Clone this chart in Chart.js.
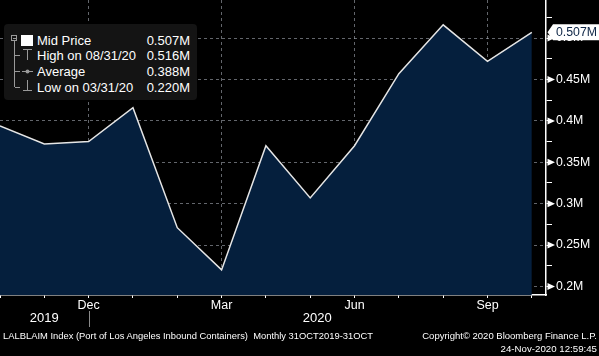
<!DOCTYPE html>
<html><head><meta charset="utf-8">
<script src="https://cdn.jsdelivr.net/npm/chart.js@4/dist/chart.umd.min.js"></script>
<style>
html,body{margin:0;padding:0;background:#000;}
#wrap{position:relative;width:599px;height:356px;overflow:hidden;background:#000;}
#c{position:absolute;left:0;top:0;}
.t{position:absolute;color:#fff;font-family:'Liberation Sans',Arial,sans-serif;white-space:nowrap;line-height:16px;}
#legend{position:absolute;left:4px;top:24px;width:193px;height:76px;background:#141414;border-radius:4px;}
</style></head><body>
<div id="wrap">
<canvas id="c" width="599" height="356"></canvas>
<div id="legend"></div>
<svg id="licons" width="40" height="100" style="position:absolute;left:0;top:0" xmlns="http://www.w3.org/2000/svg">
  <g stroke="#9a9a9a" stroke-width="1" fill="none" shape-rendering="crispEdges">
    <rect x="11.5" y="35.5" width="5" height="5"/>
    <line x1="12.5" y1="38.5" x2="15.5" y2="38.5"/>
    <line x1="14.5" y1="41" x2="14.5" y2="87"/>
    <line x1="14.5" y1="55.5" x2="20" y2="55.5"/>
    <line x1="14.5" y1="71.5" x2="20" y2="71.5"/>
    <line x1="14.5" y1="87.5" x2="20" y2="87.5"/>
    <line x1="23" y1="49.5" x2="32" y2="49.5"/>
    <line x1="27.5" y1="49.5" x2="27.5" y2="60"/>
    <line x1="22" y1="71.5" x2="33" y2="71.5"/>
    <line x1="27.5" y1="80" x2="27.5" y2="90.5"/>
    <line x1="23" y1="90.5" x2="32" y2="90.5"/>
  </g>
  <circle cx="27.5" cy="71.5" r="2" fill="#9a9a9a"/>
  <rect x="21" y="35" width="12" height="11" fill="#fff"/>
</svg>
<div id="ltext"></div>
<div class="t" id="foot1" style="left:3px;top:328px;font-size:9.4px;">LALBLAIM Index (Port of Los Angeles Inbound Containers)&nbsp; Monthly 31OCT2019-31OCT</div>
<div class="t" id="foot2" style="right:2px;top:328px;font-size:9.5px;">Copyright© 2020 Bloomberg Finance L.P.</div>
<div class="t" id="foot3" style="right:2px;top:341px;font-size:9.7px;">24-Nov-2020 12:59:45</div>
</div>
<script>
// ---- data ----
const months = ['Oct','Nov','Dec','Jan','Feb','Mar','Apr','May','Jun','Jul','Aug','Sep','Oct'];
const dates = ['10/31/19','11/30/19','12/31/19','01/31/20','02/29/20','03/31/20','04/30/20','05/31/20','06/30/20','07/31/20','08/31/20','09/30/20','10/31/20'];
const midPrice = [0.394,0.372,0.375,0.416,0.271,0.220,0.370,0.307,0.370,0.457,0.516,0.472,0.507];
const labeledMonths = ['Dec','Mar','Jun','Sep'];
const yearLabels = ['2019','2020'];
const yMajorTicks = [0.2,0.25,0.3,0.35,0.4,0.45,0.5];
const yMinorTicks = [0.225,0.275,0.325,0.375,0.425,0.475,0.525];

const FONT = "'Liberation Sans',Arial,sans-serif";
const GRID = 'rgba(165,170,180,0.6)';
const fmtAxis = v => String(+v.toFixed(3)) + 'M';
const fmt3 = v => v.toFixed(3) + 'M';
const yearBoundary = months.indexOf('Dec');

// ---- legend text ----
(function(){
  const last = midPrice[midPrice.length-1];
  const hi = Math.max(...midPrice), lo = Math.min(...midPrice);
  const avg = midPrice.reduce((a,b)=>a+b,0)/midPrice.length;
  const rows = [
    ['Mid Price', fmt3(last)],
    ['High on ' + dates[midPrice.indexOf(hi)], fmt3(hi)],
    ['Average', fmt3(avg)],
    ['Low on ' + dates[midPrice.indexOf(lo)], fmt3(lo)]
  ];
  const cy = [40.5, 56, 72, 88];
  let h = '';
  rows.forEach((r,i)=>{
    h += `<div class="t" style="left:37px;top:${cy[i]-8}px;font-size:13px;">${r[0]}</div>`;
    h += `<div class="t" style="right:${599-190}px;top:${cy[i]-8}px;font-size:13px;">${r[1]}</div>`;
  });
  document.getElementById('ltext').innerHTML = h;
})();

const deco = {
  id: 'deco',
  afterDraw(chart){
    const ctx = chart.ctx, ys = chart.scales.y, xs = chart.scales.x, x2 = chart.scales.x2;
    const ax = ys.left;
    ctx.save();
    ctx.fillStyle = '#fff';
    yMajorTicks.forEach(v=>{
      const py = ys.getPixelForValue(v);
      ctx.beginPath();
      ctx.moveTo(ax+1.5, py-3.5); ctx.lineTo(ax+9, py); ctx.lineTo(ax+1.5, py+3.5);
      ctx.closePath(); ctx.fill();
    });
    // last value badge
    const last = midPrice[midPrice.length-1];
    const py = ys.getPixelForValue(last);
    ctx.beginPath();
    ctx.moveTo(ax+1.5, py);
    ctx.lineTo(ax+7, py-8);
    ctx.lineTo(chart.width, py-8);
    ctx.lineTo(chart.width, py+8);
    ctx.lineTo(ax+7, py+8);
    ctx.closePath(); ctx.fill();
    ctx.fillStyle = '#0b2344';
    ctx.font = '12.3px ' + FONT;
    ctx.textBaseline = 'middle';
    ctx.textAlign = 'left';
    ctx.fillText(fmt3(last), ax+10, py+0.5);
    // year separator
    const px = Math.round(xs.getPixelForValue(yearBoundary)) + 0.5;
    ctx.strokeStyle = '#8a8a8a'; ctx.lineWidth = 1;
    ctx.beginPath(); ctx.moveTo(px, x2.top - 1); ctx.lineTo(px, x2.bottom); ctx.stroke();
    ctx.restore();
  }
};

new Chart(document.getElementById('c'), {
  type: 'line',
  data: {
    datasets: [{
      data: midPrice.map((v,i)=>({x:i, y:v})),
      borderColor: '#e6e6e6',
      borderWidth: 1.5,
      backgroundColor: '#051f3d',
      fill: 'start',
      pointRadius: 0,
      tension: 0
    }]
  },
  options: {
    responsive: false,
    animation: false,
    devicePixelRatio: 1,
    layout: { padding: { left: 0, top: 0, right: 0, bottom: 29 } },
    plugins: { legend: { display: false }, tooltip: { enabled: false } },
    scales: {
      x: {
        type: 'linear', position: 'bottom', min: 0, max: 12.32, z: 1,
        afterBuildTicks: s => { s.ticks = months.map((m,i)=>({value:i})); },
        afterFit: s => { s.height = 17; s.paddingLeft = 0; s.paddingRight = 0; },
        grid: {
          color: c => (c.tick && labeledMonths.includes(months[c.tick.value]) && c.tick.value !== 0 && c.tick.value !== 12) ? GRID : 'rgba(0,0,0,0)',
          tickColor: '#fff', tickLength: 3, lineWidth: 1, tickWidth: 1
        },
        border: { display: true, color: '#fff', width: 1.5, dash: [3,3] },
        ticks: {
          color: '#fff', font: { family: FONT, size: 12.5, lineHeight: 1 }, padding: 1,
          maxRotation: 0, autoSkip: false,
          callback: (v) => labeledMonths.includes(months[v]) && v !== 0 && v !== 12 ? months[v] : ''
        }
      },
      x2: {
        type: 'linear', position: 'bottom', min: 0, max: 12.32,
        afterBuildTicks: s => { s.ticks = [ {value:(s.min+yearBoundary)/2}, {value:(yearBoundary+s.max)/2} ]; },
        afterFit: s => { s.height = 15; s.paddingLeft = 0; s.paddingRight = 0; },
        grid: { display: false, drawTicks: false },
        border: { display: false },
        ticks: {
          color: '#fff', font: { family: FONT, size: 13, lineHeight: 1 }, padding: 0,
          maxRotation: 0, autoSkip: false,
          callback: (v, i) => yearLabels[i]
        }
      },
      y: {
        type: 'linear', position: 'right', min: 0.1897, max: 0.546, z: 1,
        afterBuildTicks: s => { s.ticks = yMajorTicks.concat(yMinorTicks).sort((a,b)=>a-b).map(v=>({value:v})); },
        afterFit: s => { s.width = 53; s.paddingTop = 0; s.paddingBottom = 0; },
        grid: {
          color: c => (c.tick && yMajorTicks.some(m=>Math.abs(m-c.tick.value)<1e-9)) ? GRID : 'rgba(0,0,0,0)',
          tickColor: '#fff', tickLength: 6, lineWidth: 1, tickWidth: 1
        },
        border: { display: true, color: '#fff', width: 1.5, dash: [3,3] },
        ticks: {
          color: '#fff', font: { family: FONT, size: 12.3 }, padding: 4,
          callback: v => yMajorTicks.some(m=>Math.abs(m-v)<1e-9) ? fmtAxis(v) : ''
        }
      }
    }
  },
  plugins: [deco]
});
</script>
</body></html>
